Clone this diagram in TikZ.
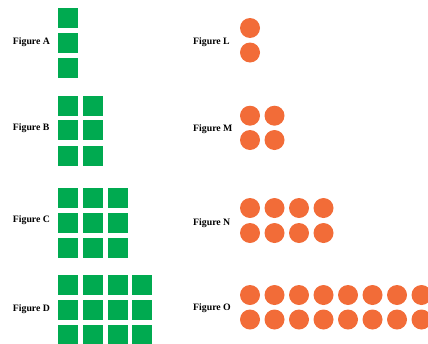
\documentclass[tikz,border=0pt]{standalone}
\usepackage{fontspec}
\setmainfont{Liberation Serif}
\definecolor{sqgreen}{RGB}{0,170,80}
\definecolor{dotorange}{RGB}{242,108,56}
\begin{document}
\begin{tikzpicture}[x=1pt,y=-1pt,
  sq/.style={fill=sqgreen,draw=none,minimum size=20pt,inner sep=0pt,outer sep=0pt},
  dot/.style={circle,fill=dotorange,draw=none,minimum size=20pt,inner sep=0pt,outer sep=0pt},
  lbl/.style={anchor=west,inner sep=0pt,font=\fontsize{9.8}{11}\selectfont\bfseries}]
\useasboundingbox (0,0) rectangle (428,343);
\clip (0,0) rectangle (428,343);
% labels
\node[lbl] (la) at (12.7,42.5) {Figure A};
\node[lbl] (lb) at (12.7,128.5) {Figure B};
\node[lbl] (lc) at (12.7,220.5) {Figure C};
\node[lbl] (ld) at (12.7,309.5) {Figure D};
\node[lbl] (ll) at (193,42.5) {Figure L};
\node[lbl] (lm) at (193,129.5) {Figure M};
\node[lbl] (ln) at (193,223.5) {Figure N};
\node[lbl] (lo) at (193,308.5) {Figure O};
% squares
\foreach \y [count=\r] in {18,43,68}
  \node[sq] (a\r) at (68,\y) {};
\foreach \y [count=\r] in {106,130,156}
  \foreach \x [count=\c] in {68,93}
    \node[sq] (b\r\c) at (\x,\y) {};
\foreach \y [count=\r] in {198,223,248}
  \foreach \x [count=\c] in {68,93,118}
    \node[sq] (c\r\c) at (\x,\y) {};
\foreach \y [count=\r] in {285,310,335}
  \foreach \x [count=\c] in {68,93,118,142}
    \node[sq] (d\r\c) at (\x,\y) {};
% circles
\foreach \y [count=\r] in {28,52.5}
  \node[dot] (l\r) at (250,\y) {};
\foreach \y [count=\r] in {115.7,140}
  \foreach \x [count=\c] in {250,274.5}
    \node[dot] (m\r\c) at (\x,\y) {};
\foreach \y [count=\r] in {208,233}
  \foreach \x [count=\c] in {250,274.5,299,323.5}
    \node[dot] (n\r\c) at (\x,\y) {};
\foreach \y [count=\r] in {295,319.5}
  \foreach \k in {0,...,7}
    \node[dot] (o\r\k) at (250+24.5*\k,\y) {};
\end{tikzpicture}
\end{document}
